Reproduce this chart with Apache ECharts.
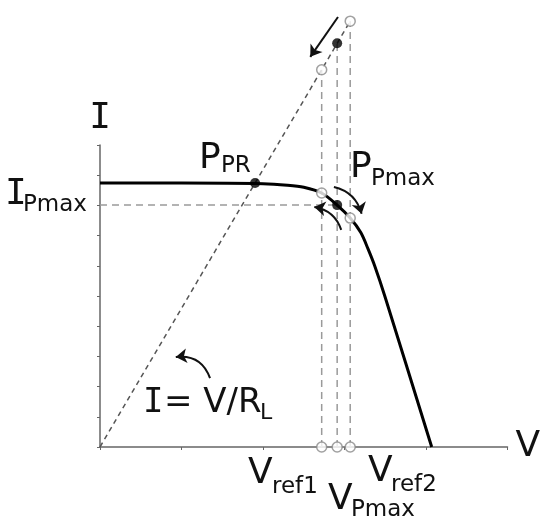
<!DOCTYPE html>
<html>
<head>
<meta charset="utf-8">
<script src="https://cdn.jsdelivr.net/npm/echarts@6/dist/echarts.min.js"></script>
<style>
  html, body { margin: 0; padding: 0; background: #ffffff; }
  #chart { width: 550px; height: 530px; }
</style>
</head>
<body>
<div id="chart"></div>
<script>
// I-V curve of the source
const curveV = [0, 1.0, 2.0, 2.3, 2.5, 2.72, 2.91, 3.07, 3.2, 3.29, 3.37, 3.5, 4.07]
const curveI = [8.74, 8.74, 8.72, 8.67, 8.6, 8.41, 8.01, 7.58, 7.1, 6.55, 6.0, 4.95, 0]

// load line I = V/RL
const loadV = [0, 3.07]
const loadI = [0, 14.1]

// operating points
const pprV = 1.903
const pprI = 8.74
const vRef1 = 2.72
const vPmax = 2.91
const vRef2 = 3.07
const iRef1 = 8.41
const iPmax = 8.01
const iRef2 = 7.58
const topRef1 = 12.49
const topPmax = 13.37
const topRef2 = 14.1

// arrows [from, to, curveness]
const arrows = [
  [[2.92, 14.24], [2.58, 12.92], 0],
  [[2.87, 8.61], [3.21, 7.72], 0.3],
  [[2.96, 7.19], [2.63, 7.95], -0.3],
  [[1.35, 2.28], [0.93, 2.98], -0.4]
]

const SANS = 'DejaVu Sans'
const MONO = 'DejaVu Sans Mono'

function txt (str, x, baseline, size, family) {
  return {
    type: 'text',
    x: x,
    y: baseline - size * 0.36,
    style: {
      text: str,
      font: size + 'px "' + (family || SANS) + '"',
      fill: '#111',
      verticalAlign: 'middle',
      align: 'left'
    }
  }
}

const dashGray = { color: '#9a9a9a', width: 1.5, type: [7, 5] }

function vline (v, top) {
  return {
    type: 'line', data: [[v, 0], [v, top]], symbol: 'none', clip: false,
    lineStyle: dashGray, z: 1
  }
}

const openDot = { color: '#fff', borderColor: '#8a8a8a', borderWidth: 1.5 }
const fillDot = { color: '#000' }

const chart = echarts.init(document.getElementById('chart'))
chart.setOption({
  animation: false,
  backgroundColor: '#fff',
  grid: { left: 100, right: 42.5, top: 145, bottom: 83 },
  xAxis: {
    type: 'value', min: 0, max: 5, interval: 1,
    name: 'V', nameLocation: 'end', nameGap: 8,
    nameTextStyle: { fontFamily: SANS, fontSize: 36, color: '#111' },
    axisLine: { lineStyle: { color: '#666', width: 1.5 } },
    axisTick: { show: true, length: 3, lineStyle: { color: '#666' } },
    axisLabel: { show: false },
    splitLine: { show: false }
  },
  yAxis: {
    type: 'value', min: 0, max: 10, interval: 1,
    name: 'I', nameLocation: 'end', nameGap: 8,
    nameTextStyle: { fontFamily: MONO, fontSize: 36, color: '#111' },
    axisLine: { lineStyle: { color: '#666', width: 1.5 } },
    axisTick: { show: true, length: 3, lineStyle: { color: '#666' } },
    axisLabel: { show: false },
    splitLine: { show: false }
  },
  series: [
    // load line
    {
      type: 'line', data: loadV.map((v, i) => [v, loadI[i]]), symbol: 'none', clip: false,
      lineStyle: { color: '#555', width: 1.5, type: [5, 4] }, z: 2
    },
    vline(vRef1, topRef1),
    vline(vPmax, topPmax),
    vline(vRef2, topRef2),
    {
      type: 'line', data: [[0, iPmax], [vPmax, iPmax]], symbol: 'none',
      lineStyle: dashGray, z: 1
    },
    // I-V curve
    {
      type: 'line', data: curveV.map((v, i) => [v, curveI[i]]), symbol: 'none',
      smooth: 0.3,
      lineStyle: { color: '#000', width: 3 }, z: 3
    },
    {
      type: 'scatter', symbolSize: 10, clip: false, z: 5,
      itemStyle: openDot,
      data: [[vRef1, 0], [vPmax, 0], [vRef2, 0], [vRef1, iRef1], [vRef2, iRef2],
        [vRef1, topRef1], [vRef2, topRef2]]
    },
    {
      type: 'scatter', symbolSize: 10, clip: false, z: 5,
      itemStyle: fillDot,
      data: [[pprV, pprI], [vPmax, iPmax], [vPmax, topPmax]]
    },
    {
      type: 'lines', coordinateSystem: 'cartesian2d', clip: false, z: 6,
      symbol: ['none', 'arrow'], symbolSize: 11,
      lineStyle: { color: '#111', width: 2, opacity: 1 },
      data: arrows.map(a => ({
        coords: [a[0], a[1]],
        lineStyle: { curveness: a[2] }
      }))
    }
  ],
  graphic: [
    txt('I', 5, 208, 36, MONO),
    txt('Pmax', 23, 213, 23),
    txt('P', 199, 172, 36),
    txt('PR', 221, 174, 23),
    txt('P', 350, 181, 36),
    txt('Pmax', 371, 187, 23),
    txt('I', 143, 415, 34, MONO),
    txt('= V/R', 164, 415, 34),
    txt('L', 260, 421, 22),
    txt('V', 248, 487, 36),
    txt('ref1', 272, 495, 23),
    txt('V', 328, 513, 36),
    txt('Pmax', 351, 518, 23),
    txt('V', 368, 485, 36),
    txt('ref2', 391, 493, 23)
  ]
})
</script>
</body>
</html>
